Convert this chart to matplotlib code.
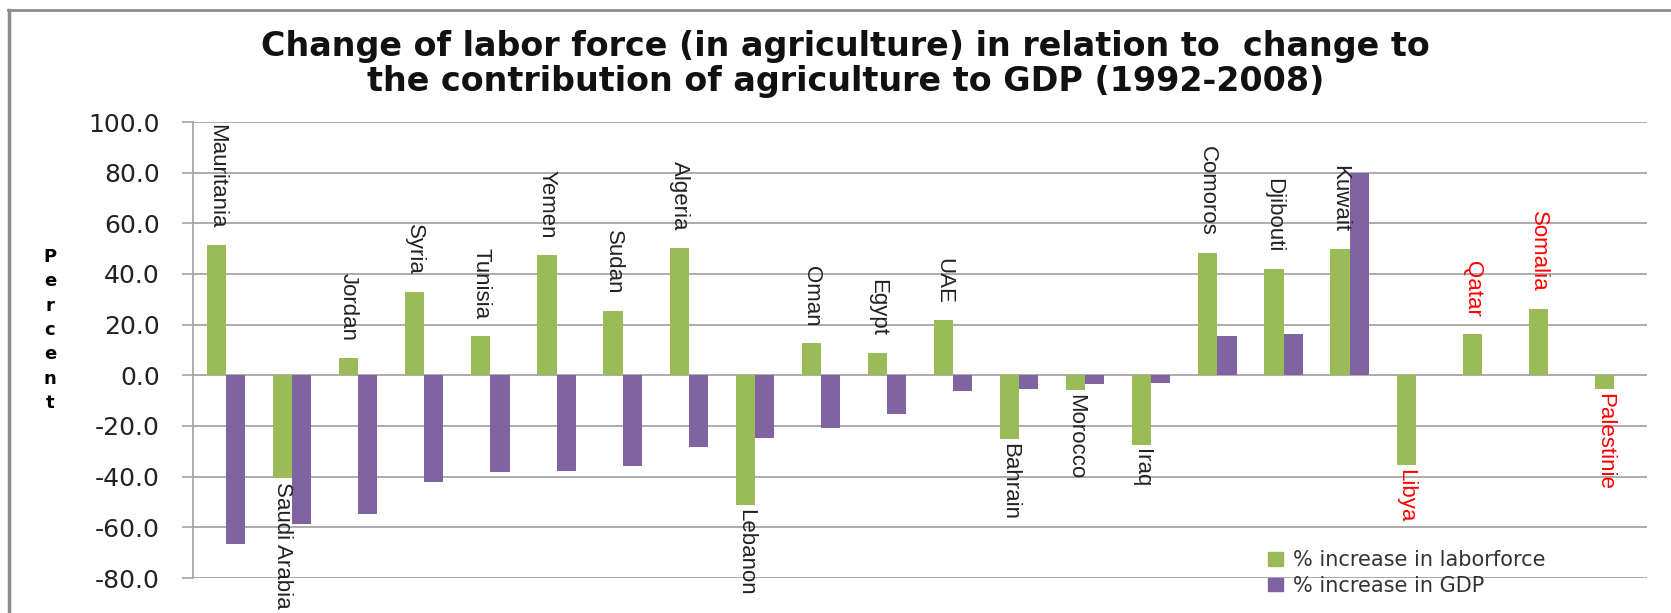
import matplotlib
matplotlib.use("Agg")
import matplotlib.pyplot as plt
import numpy as np
from matplotlib.lines import Line2D
from matplotlib.patches import Patch

countries = ["Mauritania", "Saudi Arabia", "Jordan", "Syria", "Tunisia", "Yemen",
             "Sudan", "Algeria", "Lebanon", "Oman", "Egypt", "UAE", "Bahrain",
             "Morocco", "Iraq", "Comoros", "Djibouti", "Kuwait", "Libya", "Qatar",
             "Somalia", "Palestinie"]
labor = [51.3, -40.5, 6.8, 32.9, 15.5, 47.6, 25.4, 50.4, -51.1, 12.8, 8.9, 21.7,
         -25.1, -5.9, -27.5, 48.4, 41.8, 49.9, -35.5, 16.4, 26.3, -5.5]
gdp = [-66.4, -58.5, -54.9, -42.1, -38.2, -37.8, -35.9, -28.4, -24.6, -20.8, -15.3,
       -6.3, -5.4, -3.6, -3.0, 15.5, 16.4, 79.9, np.nan, np.nan, np.nan, np.nan]
red_labels = ["Libya", "Qatar", "Somalia", "Palestinie"]

green = "#9BBB59"
purple = "#8064A2"
grid_col = "#a6a6a6"
label_font = ["Liberation Sans Narrow", "Liberation Sans", "DejaVu Sans"]

fig = plt.figure(figsize=(16.71, 6.13), dpi=100)
ax = fig.add_axes([193/1671, 1-578/613, (1647-193)/1671, (578-122)/613])

x = np.arange(len(countries))
w = 0.29
ax.bar(x - w/2, labor, w, color=green, zorder=3)
ax.bar(x + w/2, gdp, w, color=purple, zorder=3)

ax.set_xlim(-0.5, len(countries) - 0.5)
ax.set_ylim(-80, 100)
ax.set_yticks(np.arange(-80, 101, 20))
ax.set_yticklabels(["%.1f" % v for v in np.arange(-80, 101, 20)])
ax.set_xticks([])
ax.tick_params(axis="y", direction="out", length=8, width=1.2, color=grid_col,
               labelsize=18, labelcolor="#222222", pad=16)
ax.grid(axis="y", color=grid_col, linewidth=1.3, zorder=0)
for s in ["top", "right", "bottom"]:
    ax.spines[s].set_visible(False)
ax.spines["left"].set_color(grid_col)
ax.spines["left"].set_linewidth(1.3)

# category names sit on the end of the green bar
for i, (name, v) in enumerate(zip(countries, labor)):
    col = "red" if name in red_labels else "#222222"
    if v >= 0:
        ax.annotate(name, (i - w/2, v), xytext=(0, 12), textcoords="offset points",
                    rotation=270, ha="center", va="bottom", fontsize=16,
                    family=label_font, color=col, zorder=4, annotation_clip=False)
    else:
        ax.annotate(name, (i - w/2, v), xytext=(0, -3), textcoords="offset points",
                    rotation=270, ha="center", va="top", fontsize=16,
                    family=label_font, color=col, zorder=4, annotation_clip=False)

fig.text(0.506, 1-64/613, "Change of labor force (in agriculture) in relation to  change to\n"
         "the contribution of agriculture to GDP (1992-2008)",
         ha="center", va="center", fontsize=24, weight="bold", color="#111111",
         linespacing=1.05)

fig.text(50/1671, 1-330/613, "P\ne\nr\nc\ne\nn\nt", ha="center", va="center",
         fontsize=13, weight="bold", linespacing=1.45)

handles = [Patch(color=green), Patch(color=purple)]
fig.legend(handles, ["% increase in laborforce", "% increase in GDP"],
           loc="upper left", bbox_to_anchor=(1258/1671, 1-540/613), frameon=False,
           fontsize=15, handlelength=0.7, handleheight=0.6, handletextpad=0.5,
           labelspacing=0.25, borderpad=0, labelcolor="#333333")

fig.add_artist(Line2D([8/1671, 1], [1-10/613, 1-10/613], color="#8c8c8c", lw=2))
fig.add_artist(Line2D([9/1671, 9/1671], [0, 1-10/613], color="#8c8c8c", lw=2.5))

fig.savefig("out.png", dpi=100)
